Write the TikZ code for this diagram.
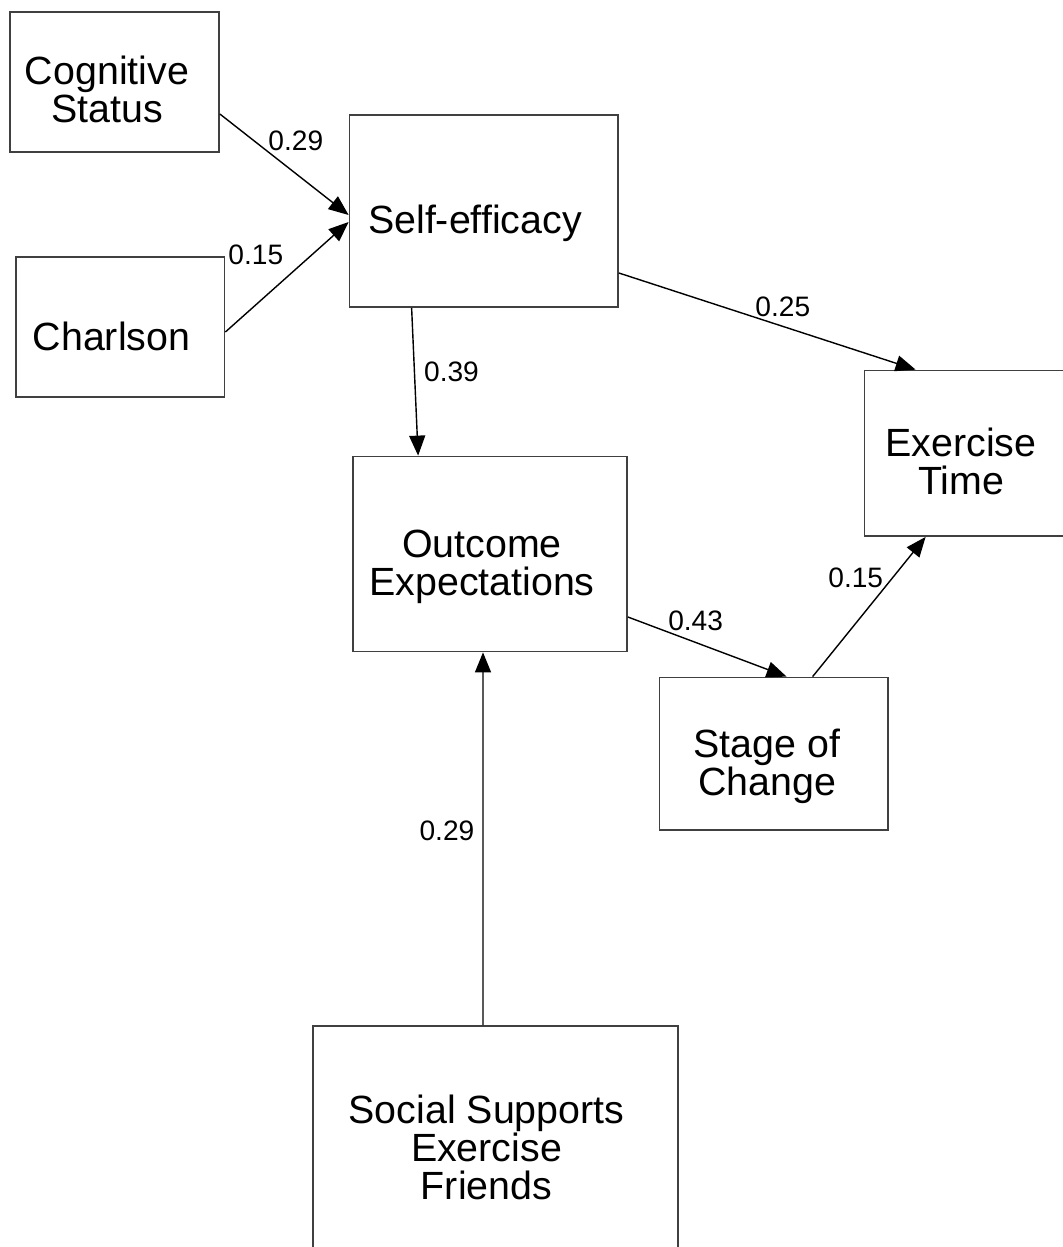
\documentclass[tikz,border=0pt]{standalone}
\usepackage{fontspec}
\setmainfont{Liberation Sans}
\usetikzlibrary{arrows.meta}
\tikzset{box/.style={draw=black!75,line width=0.5pt,inner sep=0pt}}
\tikzset{txt/.style={align=center,inner sep=0pt,font=\fontsize{11.2}{10.8}\selectfont}}
\tikzset{ed/.style={inner sep=0pt,font=\fontsize{8}{9.6}\selectfont}}
\tikzset{>={Triangle[length=2mm,width=1.6mm]}}

\begin{document}
\begin{tikzpicture}
\useasboundingbox (0,0) rectangle (10.62,-12.47);

\node[box,minimum width=2.09cm,minimum height=1.40cm] (cog) at (1.145,-0.82) {};
\node[box,minimum width=2.085cm,minimum height=1.40cm] (charl) at (1.2025,-3.27) {};
\node[box,minimum width=2.685cm,minimum height=1.92cm] (self) at (4.8375,-2.11) {};
\node[box,minimum width=2.5cm,minimum height=1.655cm] (ex) at (9.895,-4.5325) {};
\node[box,minimum width=2.74cm,minimum height=1.95cm] (out) at (4.90,-5.54) {};
\node[box,minimum width=2.285cm,minimum height=1.525cm] (stage) at (7.7375,-7.5375) {};
\node[box,minimum width=3.65cm,minimum height=2.34cm] (soc) at (4.955,-11.43) {};

\node[txt] (cogtxt) at (1.07,-0.89) {Cognitive\\Status};
\node[txt] (charltxt) at (1.115,-3.36) {Charlson};
\node[txt] (selftxt) at (4.75,-2.23) {Self-efficacy};
\node[txt] (extxt) at (9.61,-4.615) {Exercise\\Time};
\node[txt] (outtxt) at (4.82,-5.67) {Outcome\\Expectations};
\node[txt] (stagetxt) at (7.67,-7.66) {Stage of\\Change};
\node[txt] (soctxt) at (4.865,-11.475) {Social Supports\\Exercise\\Friends};

\draw[->] ([yshift=-3.2mm]cog.east) -- node[ed,pos=.372,anchor=south west] {0.29} ([yshift=-0.4mm]self.west);
\draw[->] ([yshift=-0.5mm]charl.east) -- node[ed,pos=.475,anchor=south east,yshift=1.4mm] {0.15} ([yshift=-1.1mm]self.west);
\draw[->] ([yshift=-6.2mm]self.east) -- node[ed,pos=.458,anchor=south west] {0.25} ([xshift=5.2mm]ex.north west);
\draw[->] ([xshift=6.3mm]self.south west) -- node[ed,pos=.43,right=0.9mm] {0.39} ([xshift=6.6mm]out.north west);
\draw[->] ([yshift=-6.3mm]out.east) -- node[ed,pos=.25,anchor=south west] {0.43} ([xshift=12.8mm]stage.north west);
\draw[->] ([xshift=15.4mm]stage.north west) -- node[ed,pos=.63,anchor=south east] {0.15} ([xshift=6.2mm]ex.south west);
\draw[->] ([xshift=-1.25mm]soc.north) -- node[ed,pos=.52,left=0.8mm] {0.29} ([xshift=-0.7mm]out.south);
\end{tikzpicture}
\end{document}
